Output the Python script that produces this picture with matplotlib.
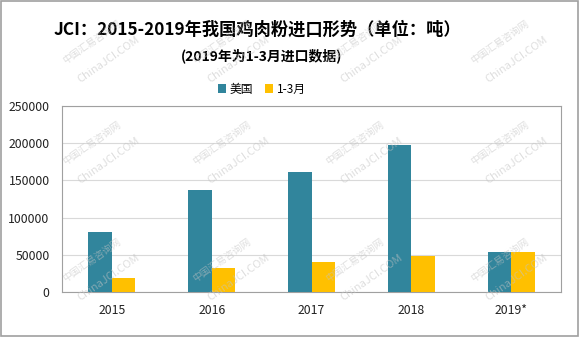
import matplotlib
matplotlib.use("Agg")
import matplotlib.pyplot as plt
from matplotlib.patches import Rectangle
import numpy as np

plt.rcParams['font.family'] = ['Noto Sans CJK SC', 'DejaVu Sans']

categories = ["2015", "2016", "2017", "2018", "2019*"]
usa = [80600, 137500, 161300, 198000, 53800]
q1 = [18800, 32300, 40300, 48800, 53800]
series_names = ["美国", "1-3月"]
yticks = [0, 50000, 100000, 150000, 200000, 250000]

W, H = 580, 337
fig = plt.figure(figsize=(5.8, 3.37), dpi=100)
ax = fig.add_axes([62/W, 1-292/H, (561-62)/W, (292-106)/H])

x = np.arange(len(categories))
w = 0.235
ax.bar(x - w/2, usa, w, color="#31859C", label=series_names[0], zorder=3)
ax.bar(x + w/2, q1, w, color="#FFC000", label=series_names[1], zorder=3)

ax.set_xlim(-0.5, len(categories) - 0.5)
ax.set_ylim(0, 250000)
ax.set_yticks(yticks)
ax.set_yticklabels([str(v) for v in yticks])
ax.set_xticks(x)
ax.set_xticklabels(categories)
ax.tick_params(axis='both', length=0, labelsize=8.8, colors="#222222")
ax.tick_params(axis='x', pad=9)
ax.tick_params(axis='y', pad=9)
ax.grid(axis='y', color="#D9D9D9", linewidth=0.8, zorder=0)
for s in ax.spines.values():
    s.set_color("#A0A0A0")
    s.set_linewidth(0.8)

fig.text(257/W, 1-30/H, "JCI：2015-2019年我国鸡肉粉进口形势（单位：吨）", ha='center', va='center',
         fontsize=12.4, fontweight='bold')
fig.text(262/W, 1-56/H, "(2019年为1-3月进口数据)", ha='center', va='center',
         fontsize=10, fontweight='bold')
fig.legend(loc='center', bbox_to_anchor=(262/W, 1-89/H), ncol=2, frameon=False,
           fontsize=8.5, handlelength=0.7, handleheight=0.7, columnspacing=1.0, handletextpad=0.3)

# faint watermarks
wm_cols = [92, 222, 355, 500]
wm_rows = [42, 143, 260]
for yy in wm_rows:
    for xx in wm_cols:
        fig.text(xx/W, 1-yy/H, "中国汇易咨询网", rotation=35, ha='center', va='center',
                 fontsize=7, color="#C4C4C4", alpha=0.55, zorder=10)
        fig.text((xx+17)/W, 1-(yy+17)/H, "ChinaJCI.COM", rotation=35, ha='center', va='center',
                 fontsize=8, color="#C4C4C4", alpha=0.55, zorder=10)

fig.patches.append(Rectangle((0.002, 0.003), 0.995, 0.994, transform=fig.transFigure,
                             fill=False, edgecolor="#A0A0A0", linewidth=1.2))

fig.savefig("out.png", dpi=100)
